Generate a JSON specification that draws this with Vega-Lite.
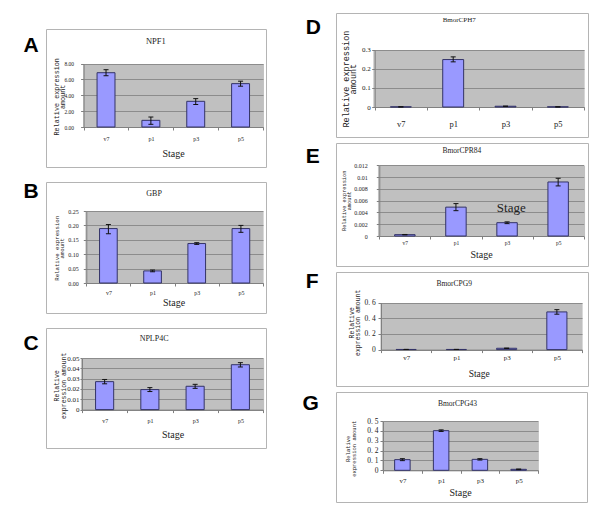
{
  "$schema": "https://vega.github.io/schema/vega-lite/v6.json",
  "padding": {"left": 22, "top": 12, "right": 0, "bottom": 0},
  "background": "white",
  "config": {
    "view": {"stroke": "#b4b4b4", "strokeWidth": 1},
    "axis": {"labelFont": "Liberation Serif", "titleFont": "Liberation Serif", "labelColor": "#222222", "titleColor": "#222222", "titleFontWeight": "normal"}
  },
  "spacing": 34,
  "hconcat": [
    {
      "spacing": 15,
      "bounds": "flush",
      "vconcat": [
        {"width": 220, "height": 1, "view": {"stroke": "#ffffff"}, "data": {"values": [{"a": 1}]}, "mark": {"type": "point", "size": 0, "opacity": 0}, "encoding": {}},
        {
          "width": 220, "height": 138,
          "data": {"values": [
            {"stage": "v7", "value": 6.85, "lo": 6.47, "hi": 7.23},
            {"stage": "p1", "value": 0.84, "lo": 0.34, "hi": 1.26},
            {"stage": "p3", "value": 3.24, "lo": 2.84, "hi": 3.58},
            {"stage": "p5", "value": 5.47, "lo": 5.15, "hi": 5.78}
          ]},
          "resolve": {"axis": {"x": "independent", "y": "independent"}},
          "layer": [
            {"mark": {"type": "bar", "width": {"band": 0.4}, "fill": "#9999ff", "stroke": "#333366", "strokeWidth": 1},
             "encoding": {
               "x": {"field": "stage", "type": "nominal", "sort": null, "scale": {"type": "band", "domain": ["v7", "p1", "p3", "p5"], "range": [37.6, 217], "paddingInner": 0, "paddingOuter": 0},
                     "axis": {"orient": "bottom", "offset": -40, "domain": true, "domainColor": "#808080", "ticks": true, "tickBand": "extent", "tickSize": 3, "tickColor": "#808080", "grid": false, "labelAngle": 0, "labelFontSize": 6, "labelPadding": 5, "labelOverlap": false, "title": "Stage", "titleFontSize": 10, "titleX": 127, "titleY": 26, "titleAlign": "center", "titleBaseline": "middle", "titleAngle": 0}},
               "y": {"field": "value", "type": "quantitative", "scale": {"domain": [0, 8], "range": [98, 34.6], "nice": false, "zero": false},
                     "axis": {"orient": "left", "offset": -37.6, "domain": true, "domainColor": "#808080", "ticks": true, "tickSize": 3, "tickColor": "#808080", "grid": true, "gridColor": "#8c8c8c", "gridWidth": 1, "values": [0, 2, 4, 6, 8], "format": ".2f", "labelFontSize": 5.5, "labelPadding": 7, "labelOverlap": false, "labelFlush": false, "title": ["Relative expression", "amount"], "titleFont": "Liberation Mono", "titleFontSize": 6.8, "titleLineHeight": 5.5, "titleAngle": -90, "titleAlign": "center", "titleBaseline": "top", "titleX": -30, "titleY": 67.3}}
             }},
            {"mark": {"type": "rule", "color": "#111111", "strokeWidth": 1},
             "encoding": {
               "x": {"field": "stage", "type": "nominal", "sort": null, "axis": {"orient": "top", "offset": 0, "domain": false, "ticks": false, "labels": false, "grid": false, "title": "NPF1", "titleFontSize": 8.5, "titleX": 109.3, "titleY": 11.3, "titleAlign": "center", "titleBaseline": "middle", "titleAngle": 0}},
               "y": {"field": "lo", "type": "quantitative", "axis": {"orient": "left", "offset": 0, "domain": false, "ticks": false, "labels": false, "grid": false, "title": "A", "titleFont": "Liberation Sans", "titleFontSize": 21, "titleFontWeight": "bold", "titleColor": "#000000", "titleAngle": 0, "titleAlign": "left", "titleBaseline": "alphabetic", "titleX": -23, "titleY": 22}},
               "y2": {"field": "hi"}
             }},
            {"mark": {"type": "tick", "color": "#111111", "thickness": 1, "size": 5, "opacity": 1},
             "encoding": {"x": {"field": "stage", "type": "nominal", "sort": null, "axis": null}, "y": {"field": "lo", "type": "quantitative", "axis": null}}},
            {"mark": {"type": "tick", "color": "#111111", "thickness": 1, "size": 5, "opacity": 1},
             "encoding": {"x": {"field": "stage", "type": "nominal", "sort": null, "axis": {"orient": "top", "offset": 0, "domain": false, "ticks": false, "labels": false, "grid": true, "gridColor": "#c0c0c0", "gridWidth": 46.9, "gridOpacity": 1, "tickBand": "center", "title": null}},
                          "y": {"field": "hi", "type": "quantitative", "axis": null}}}
          ]
        },
        {
          "width": 220, "height": 131,
          "data": {"values": [
            {"stage": "v7", "value": 0.189, "lo": 0.171, "hi": 0.203},
            {"stage": "p1", "value": 0.042, "lo": 0.039, "hi": 0.045},
            {"stage": "p3", "value": 0.137, "lo": 0.134, "hi": 0.14},
            {"stage": "p5", "value": 0.189, "lo": 0.176, "hi": 0.2}
          ]},
          "resolve": {"axis": {"x": "independent", "y": "independent"}},
          "layer": [
            {"mark": {"type": "bar", "width": {"band": 0.4}, "fill": "#9999ff", "stroke": "#333366", "strokeWidth": 1},
             "encoding": {
               "x": {"field": "stage", "type": "nominal", "sort": null, "scale": {"type": "band", "domain": ["v7", "p1", "p3", "p5"], "range": [40.3, 217], "paddingInner": 0, "paddingOuter": 0},
                     "axis": {"orient": "bottom", "offset": -30, "domain": true, "domainColor": "#808080", "ticks": true, "tickBand": "extent", "tickSize": 3, "tickColor": "#808080", "grid": false, "labelAngle": 0, "labelFontSize": 6, "labelPadding": 3, "labelOverlap": false, "title": "Stage", "titleFontSize": 10, "titleX": 127.6, "titleY": 19.6, "titleAlign": "center", "titleBaseline": "middle", "titleAngle": 0}},
               "y": {"field": "value", "type": "quantitative", "scale": {"domain": [0, 0.25], "range": [101, 29], "nice": false, "zero": false},
                     "axis": {"orient": "left", "offset": -40.3, "domain": true, "domainColor": "#808080", "ticks": true, "tickSize": 3, "tickColor": "#808080", "grid": true, "gridColor": "#8c8c8c", "gridWidth": 1, "values": [0, 0.05, 0.1, 0.15, 0.2, 0.25], "format": ".2f", "labelFontSize": 6, "labelPadding": 5, "labelOverlap": false, "labelFlush": false, "title": ["Relative expression", "amount"], "titleFont": "Liberation Mono", "titleFontSize": 5.7, "titleLineHeight": 5, "titleAngle": -90, "titleAlign": "center", "titleBaseline": "top", "titleX": -32.7, "titleY": 65.8}}
             }},
            {"mark": {"type": "rule", "color": "#111111", "strokeWidth": 1},
             "encoding": {
               "x": {"field": "stage", "type": "nominal", "sort": null, "axis": {"orient": "top", "offset": 0, "domain": false, "ticks": false, "labels": false, "grid": false, "title": "GBP", "titleFontSize": 8, "titleX": 107.6, "titleY": 11.6, "titleAlign": "center", "titleBaseline": "middle", "titleAngle": 0}},
               "y": {"field": "lo", "type": "quantitative", "axis": {"orient": "left", "offset": 0, "domain": false, "ticks": false, "labels": false, "grid": false, "title": "B", "titleFont": "Liberation Sans", "titleFontSize": 21, "titleFontWeight": "bold", "titleColor": "#000000", "titleAngle": 0, "titleAlign": "left", "titleBaseline": "alphabetic", "titleX": -23, "titleY": 15}},
               "y2": {"field": "hi"}
             }},
            {"mark": {"type": "tick", "color": "#111111", "thickness": 1, "size": 5, "opacity": 1},
             "encoding": {"x": {"field": "stage", "type": "nominal", "sort": null, "axis": null}, "y": {"field": "lo", "type": "quantitative", "axis": null}}},
            {"mark": {"type": "tick", "color": "#111111", "thickness": 1, "size": 5, "opacity": 1},
             "encoding": {"x": {"field": "stage", "type": "nominal", "sort": null, "axis": {"orient": "top", "offset": 0, "domain": false, "ticks": false, "labels": false, "grid": true, "gridColor": "#c0c0c0", "gridWidth": 46.2, "gridOpacity": 1, "tickBand": "center", "title": null}},
                          "y": {"field": "hi", "type": "quantitative", "axis": null}}}
          ]
        },
        {
          "width": 220, "height": 120,
          "data": {"values": [
            {"stage": "v7", "value": 0.0271, "lo": 0.025, "hi": 0.0292},
            {"stage": "p1", "value": 0.0194, "lo": 0.0175, "hi": 0.0213},
            {"stage": "p3", "value": 0.0226, "lo": 0.0206, "hi": 0.0245},
            {"stage": "p5", "value": 0.0435, "lo": 0.0413, "hi": 0.0455}
          ]},
          "resolve": {"axis": {"x": "independent", "y": "independent"}},
          "layer": [
            {"mark": {"type": "bar", "width": {"band": 0.4}, "fill": "#9999ff", "stroke": "#333366", "strokeWidth": 1},
             "encoding": {
               "x": {"field": "stage", "type": "nominal", "sort": null, "scale": {"type": "band", "domain": ["v7", "p1", "p3", "p5"], "range": [36, 217], "paddingInner": 0, "paddingOuter": 0},
                     "axis": {"orient": "bottom", "offset": -38.4, "domain": true, "domainColor": "#808080", "ticks": true, "tickBand": "extent", "tickSize": 3, "tickColor": "#808080", "grid": false, "labelAngle": 0, "labelFontSize": 6, "labelPadding": 4.5, "labelOverlap": false, "title": "Stage", "titleFontSize": 10, "titleX": 126.6, "titleY": 24.9, "titleAlign": "center", "titleBaseline": "middle", "titleAngle": 0}},
               "y": {"field": "value", "type": "quantitative", "scale": {"domain": [0, 0.05], "range": [81.6, 30], "nice": false, "zero": false},
                     "axis": {"orient": "left", "offset": -36, "domain": true, "domainColor": "#808080", "ticks": true, "tickSize": 2, "tickColor": "#808080", "grid": true, "gridColor": "#8c8c8c", "gridWidth": 1, "values": [0, 0.01, 0.02, 0.03, 0.04, 0.05], "format": "~g", "labelFontSize": 7, "labelPadding": 1, "labelOverlap": false, "labelFlush": false, "title": ["Relative", "expression amount"], "titleFont": "Liberation Mono", "titleFontSize": 6.5, "titleLineHeight": 7, "titleAngle": -90, "titleAlign": "center", "titleBaseline": "top", "titleX": -29, "titleY": 57.3}}
             }},
            {"mark": {"type": "rule", "color": "#111111", "strokeWidth": 1},
             "encoding": {
               "x": {"field": "stage", "type": "nominal", "sort": null, "axis": {"orient": "top", "offset": 0, "domain": false, "ticks": false, "labels": false, "grid": false, "title": "NPLP4C", "titleFontSize": 8, "titleX": 107.6, "titleY": 10.6, "titleAlign": "center", "titleBaseline": "middle", "titleAngle": 0}},
               "y": {"field": "lo", "type": "quantitative", "axis": {"orient": "left", "offset": 0, "domain": false, "ticks": false, "labels": false, "grid": false, "title": "C", "titleFont": "Liberation Sans", "titleFontSize": 21, "titleFontWeight": "bold", "titleColor": "#000000", "titleAngle": 0, "titleAlign": "left", "titleBaseline": "alphabetic", "titleX": -23, "titleY": 21.6}},
               "y2": {"field": "hi"}
             }},
            {"mark": {"type": "tick", "color": "#111111", "thickness": 1, "size": 5, "opacity": 1},
             "encoding": {"x": {"field": "stage", "type": "nominal", "sort": null, "axis": null}, "y": {"field": "lo", "type": "quantitative", "axis": null}}},
            {"mark": {"type": "tick", "color": "#111111", "thickness": 1, "size": 5, "opacity": 1},
             "encoding": {"x": {"field": "stage", "type": "nominal", "sort": null, "axis": {"orient": "top", "offset": 0, "domain": false, "ticks": false, "labels": false, "grid": true, "gridColor": "#c0c0c0", "gridWidth": 47.3, "gridOpacity": 1, "tickBand": "center", "title": null}},
                          "y": {"field": "hi", "type": "quantitative", "axis": null}}}
          ]
        }
      ]
    },
    {
      "spacing": 6,
      "bounds": "flush",
      "vconcat": [
        {
          "width": 252, "height": 124,
          "data": {"values": [
            {"stage": "v7", "value": 0.0008, "lo": 0.0008, "hi": 0.0008},
            {"stage": "p1", "value": 0.248, "lo": 0.236, "hi": 0.262},
            {"stage": "p3", "value": 0.004, "lo": 0.004, "hi": 0.004},
            {"stage": "p5", "value": 0.0008, "lo": 0.0008, "hi": 0.0008}
          ]},
          "resolve": {"axis": {"x": "independent", "y": "independent"}},
          "layer": [
            {"mark": {"type": "bar", "width": {"band": 0.4}, "fill": "#9999ff", "stroke": "#333366", "strokeWidth": 1},
             "encoding": {
               "x": {"field": "stage", "type": "nominal", "sort": null, "scale": {"type": "band", "domain": ["v7", "p1", "p3", "p5"], "range": [38.7, 248], "paddingInner": 0, "paddingOuter": 0},
                     "axis": {"orient": "bottom", "offset": -30, "domain": true, "domainColor": "#808080", "ticks": true, "tickBand": "extent", "tickSize": 3, "tickColor": "#808080", "grid": false, "labelAngle": 0, "labelFontSize": 8.5, "labelPadding": 9.4, "labelOverlap": false, "title": null}},
               "y": {"field": "value", "type": "quantitative", "scale": {"domain": [0, 0.3], "range": [94, 36.6], "nice": false, "zero": false},
                     "axis": {"orient": "left", "offset": -38.7, "domain": true, "domainColor": "#808080", "ticks": true, "tickSize": 3, "tickColor": "#808080", "grid": true, "gridColor": "#8c8c8c", "gridWidth": 1, "values": [0, 0.1, 0.2, 0.3], "format": "~g", "labelFontSize": 7, "labelPadding": 1.5, "labelOverlap": false, "labelFlush": false, "title": ["Relative expression", "amount"], "titleFont": "Liberation Mono", "titleFontSize": 8.5, "titleLineHeight": 7, "titleAngle": -90, "titleAlign": "center", "titleBaseline": "top", "titleX": -33.4, "titleY": 65.6}}
             }},
            {"mark": {"type": "rule", "color": "#111111", "strokeWidth": 1},
             "encoding": {
               "x": {"field": "stage", "type": "nominal", "sort": null, "axis": {"orient": "top", "offset": 0, "domain": false, "ticks": false, "labels": false, "grid": false, "title": "BmorCPH7", "titleFontSize": 7, "titleX": 122.7, "titleY": 6.6, "titleAlign": "center", "titleBaseline": "middle", "titleAngle": 0}},
               "y": {"field": "lo", "type": "quantitative", "axis": {"orient": "left", "offset": 0, "domain": false, "ticks": false, "labels": false, "grid": false, "title": "D", "titleFont": "Liberation Sans", "titleFontSize": 21, "titleFontWeight": "bold", "titleColor": "#000000", "titleAngle": 0, "titleAlign": "left", "titleBaseline": "alphabetic", "titleX": -30.7, "titleY": 20.6}},
               "y2": {"field": "hi"}
             }},
            {"mark": {"type": "tick", "color": "#111111", "thickness": 1, "size": 5, "opacity": 1},
             "encoding": {"x": {"field": "stage", "type": "nominal", "sort": null, "axis": null}, "y": {"field": "lo", "type": "quantitative", "axis": null}}},
            {"mark": {"type": "tick", "color": "#111111", "thickness": 1, "size": 5, "opacity": 1},
             "encoding": {"x": {"field": "stage", "type": "nominal", "sort": null, "axis": {"orient": "top", "offset": 0, "domain": false, "ticks": false, "labels": false, "grid": true, "gridColor": "#c0c0c0", "gridWidth": 54.3, "gridOpacity": 1, "tickBand": "center", "title": null}},
                          "y": {"field": "hi", "type": "quantitative", "axis": null}}}
          ]
        },
        {
          "width": 252, "height": 123,
          "data": {"values": [
            {"stage": "v7", "value": 0.00023, "lo": 0.0002, "hi": 0.00026},
            {"stage": "p1", "value": 0.0049, "lo": 0.0043, "hi": 0.0055},
            {"stage": "p3", "value": 0.00226, "lo": 0.0021, "hi": 0.0024},
            {"stage": "p5", "value": 0.00917, "lo": 0.0085, "hi": 0.0098}
          ]},
          "resolve": {"axis": {"x": "independent", "y": "independent"}},
          "layer": [
            {"mark": {"type": "bar", "width": {"band": 0.4}, "fill": "#9999ff", "stroke": "#333366", "strokeWidth": 1},
             "encoding": {
               "x": {"field": "stage", "type": "nominal", "sort": null, "scale": {"type": "band", "domain": ["v7", "p1", "p3", "p5"], "range": [43.3, 247.7], "paddingInner": 0, "paddingOuter": 0},
                     "axis": {"orient": "bottom", "offset": -30, "domain": true, "domainColor": "#808080", "ticks": true, "tickBand": "extent", "tickSize": 3, "tickColor": "#808080", "grid": false, "labelAngle": 0, "labelFontSize": 5.5, "labelPadding": 1.5, "labelOverlap": false, "title": "Stage", "titleFontSize": 10, "titleX": 145, "titleY": 18.5, "titleAlign": "center", "titleBaseline": "middle", "titleAngle": 0}},
               "y": {"field": "value", "type": "quantitative", "scale": {"domain": [0, 0.012], "range": [93, 22.3], "nice": false, "zero": false},
                     "axis": {"orient": "left", "offset": -43.3, "domain": true, "domainColor": "#808080", "ticks": true, "tickSize": 3, "tickColor": "#808080", "grid": true, "gridColor": "#8c8c8c", "gridWidth": 1, "values": [0, 0.002, 0.004, 0.006, 0.008, 0.01, 0.012], "format": "~g", "labelFontSize": 6, "labelPadding": 9, "labelOverlap": false, "labelFlush": false, "title": ["Relative expression", "amount"], "titleFont": "Liberation Mono", "titleFontSize": 5.3, "titleLineHeight": 5, "titleAngle": -90, "titleAlign": "center", "titleBaseline": "top", "titleX": -38, "titleY": 57.3}}
             }},
            {"mark": {"type": "rule", "color": "#111111", "strokeWidth": 1},
             "encoding": {
               "x": {"field": "stage", "type": "nominal", "sort": null, "axis": {"orient": "top", "offset": 0, "domain": false, "ticks": false, "labels": false, "grid": false, "title": "BmorCPR84", "titleFontSize": 7.5, "titleX": 125.3, "titleY": 7.3, "titleAlign": "center", "titleBaseline": "middle", "titleAngle": 0}},
               "y": {"field": "lo", "type": "quantitative", "axis": {"orient": "left", "offset": 0, "domain": false, "ticks": false, "labels": false, "grid": false, "title": "E", "titleFont": "Liberation Sans", "titleFontSize": 21, "titleFontWeight": "bold", "titleColor": "#000000", "titleAngle": 0, "titleAlign": "left", "titleBaseline": "alphabetic", "titleX": -30.7, "titleY": 19.3}},
               "y2": {"field": "hi"}
             }},
            {"mark": {"type": "tick", "color": "#111111", "thickness": 1, "size": 5, "opacity": 1},
             "encoding": {"x": {"field": "stage", "type": "nominal", "sort": null, "axis": {"orient": "bottom", "offset": 0, "domain": false, "ticks": false, "labels": false, "grid": false, "title": "Stage", "titleFontSize": 13, "titleX": 174.8, "titleY": -58.7, "titleAlign": "center", "titleBaseline": "middle", "titleAngle": 0}},
                          "y": {"field": "lo", "type": "quantitative", "axis": null}}},
            {"mark": {"type": "tick", "color": "#111111", "thickness": 1, "size": 5, "opacity": 1},
             "encoding": {"x": {"field": "stage", "type": "nominal", "sort": null, "axis": {"orient": "top", "offset": 0, "domain": false, "ticks": false, "labels": false, "grid": true, "gridColor": "#c0c0c0", "gridWidth": 53.1, "gridOpacity": 1, "tickBand": "center", "title": null}},
                          "y": {"field": "hi", "type": "quantitative", "axis": null}}}
          ]
        },
        {
          "width": 252, "height": 114,
          "data": {"values": [
            {"stage": "v7", "value": 0.002, "lo": 0.002, "hi": 0.002},
            {"stage": "p1", "value": 0.002, "lo": 0.002, "hi": 0.002},
            {"stage": "p3", "value": 0.017, "lo": 0.015, "hi": 0.019},
            {"stage": "p5", "value": 0.481, "lo": 0.452, "hi": 0.51}
          ]},
          "resolve": {"axis": {"x": "independent", "y": "independent"}},
          "layer": [
            {"mark": {"type": "bar", "width": {"band": 0.4}, "fill": "#9999ff", "stroke": "#333366", "strokeWidth": 1},
             "encoding": {
               "x": {"field": "stage", "type": "nominal", "sort": null, "scale": {"type": "band", "domain": ["v7", "p1", "p3", "p5"], "range": [45, 246], "paddingInner": 0, "paddingOuter": 0},
                     "axis": {"orient": "bottom", "offset": -36.4, "domain": true, "domainColor": "#808080", "ticks": true, "tickBand": "extent", "tickSize": 3, "tickColor": "#808080", "grid": false, "labelAngle": 0, "labelFontSize": 7, "labelPadding": 1, "labelOverlap": false, "title": "Stage", "titleFontSize": 9.5, "titleX": 142.7, "titleY": 24, "titleAlign": "center", "titleBaseline": "middle", "titleAngle": 0}},
               "y": {"field": "value", "type": "quantitative", "scale": {"domain": [0, 0.6], "range": [77.6, 30.6], "nice": false, "zero": false},
                     "axis": {"orient": "left", "offset": -45, "domain": true, "domainColor": "#808080", "ticks": true, "tickSize": 3, "tickColor": "#808080", "grid": true, "gridColor": "#8c8c8c", "gridWidth": 1, "values": [0, 0.2, 0.4, 0.6], "labelExpr": "datum.value == 0 ? '0' : replace(format(datum.value, '.1f'), '.', '. ')", "labelFontSize": 7.5, "labelPadding": 2.7, "labelOverlap": false, "labelFlush": false, "title": ["Relative", "expression amount"], "titleFont": "Liberation Mono", "titleFontSize": 6.5, "titleLineHeight": 6, "titleAngle": -90, "titleAlign": "center", "titleBaseline": "top", "titleX": -32.3, "titleY": 50.3}}
             }},
            {"mark": {"type": "rule", "color": "#111111", "strokeWidth": 1},
             "encoding": {
               "x": {"field": "stage", "type": "nominal", "sort": null, "axis": {"orient": "top", "offset": 0, "domain": false, "ticks": false, "labels": false, "grid": false, "title": "BmorCPG9", "titleFontSize": 7.5, "titleX": 117.7, "titleY": 11.6, "titleAlign": "center", "titleBaseline": "middle", "titleAngle": 0}},
               "y": {"field": "lo", "type": "quantitative", "axis": {"orient": "left", "offset": 0, "domain": false, "ticks": false, "labels": false, "grid": false, "title": "F", "titleFont": "Liberation Sans", "titleFontSize": 21, "titleFontWeight": "bold", "titleColor": "#000000", "titleAngle": 0, "titleAlign": "left", "titleBaseline": "alphabetic", "titleX": -30.7, "titleY": 15}},
               "y2": {"field": "hi"}
             }},
            {"mark": {"type": "tick", "color": "#111111", "thickness": 1, "size": 5, "opacity": 1},
             "encoding": {"x": {"field": "stage", "type": "nominal", "sort": null, "axis": null}, "y": {"field": "lo", "type": "quantitative", "axis": null}}},
            {"mark": {"type": "tick", "color": "#111111", "thickness": 1, "size": 5, "opacity": 1},
             "encoding": {"x": {"field": "stage", "type": "nominal", "sort": null, "axis": {"orient": "top", "offset": 0, "domain": false, "ticks": false, "labels": false, "grid": true, "gridColor": "#c0c0c0", "gridWidth": 52.2, "gridOpacity": 1, "tickBand": "center", "title": null}},
                          "y": {"field": "hi", "type": "quantitative", "axis": null}}}
          ]
        },
        {
          "width": 251, "height": 110,
          "data": {"values": [
            {"stage": "v7", "value": 0.108, "lo": 0.098, "hi": 0.118},
            {"stage": "p1", "value": 0.402, "lo": 0.394, "hi": 0.41},
            {"stage": "p3", "value": 0.111, "lo": 0.104, "hi": 0.118},
            {"stage": "p5", "value": 0.01, "lo": 0.007, "hi": 0.013}
          ]},
          "resolve": {"axis": {"x": "independent", "y": "independent"}},
          "layer": [
            {"mark": {"type": "bar", "width": {"band": 0.4}, "fill": "#9999ff", "stroke": "#333366", "strokeWidth": 1},
             "encoding": {
               "x": {"field": "stage", "type": "nominal", "sort": null, "scale": {"type": "band", "domain": ["v7", "p1", "p3", "p5"], "range": [47, 202], "paddingInner": 0, "paddingOuter": 0},
                     "axis": {"orient": "bottom", "offset": -31.7, "domain": true, "domainColor": "#808080", "ticks": true, "tickBand": "extent", "tickSize": 3, "tickColor": "#808080", "grid": false, "labelAngle": 0, "labelFontSize": 7, "labelPadding": 2.8, "labelOverlap": false, "title": "Stage", "titleFontSize": 10, "titleX": 124, "titleY": 21.7, "titleAlign": "center", "titleBaseline": "middle", "titleAngle": 0}},
               "y": {"field": "value", "type": "quantitative", "scale": {"domain": [0, 0.5], "range": [78.3, 29], "nice": false, "zero": false},
                     "axis": {"orient": "left", "offset": -47, "domain": true, "domainColor": "#808080", "ticks": true, "tickSize": 3, "tickColor": "#808080", "grid": true, "gridColor": "#8c8c8c", "gridWidth": 1, "values": [0, 0.1, 0.2, 0.3, 0.4, 0.5], "labelExpr": "datum.value == 0 ? '0' : replace(format(datum.value, '.1f'), '.', '. ')", "labelFontSize": 7.5, "labelPadding": 2, "labelOverlap": false, "labelFlush": false, "title": ["Relative", "expression amount"], "titleFont": "Liberation Mono", "titleFontSize": 5.5, "titleLineHeight": 6, "titleAngle": -90, "titleAlign": "center", "titleBaseline": "top", "titleX": -37.7, "titleY": 56.3}}
             }},
            {"mark": {"type": "rule", "color": "#111111", "strokeWidth": 1},
             "encoding": {
               "x": {"field": "stage", "type": "nominal", "sort": null, "axis": {"orient": "top", "offset": 0, "domain": false, "ticks": false, "labels": false, "grid": false, "title": "BmorCPG43", "titleFontSize": 7.5, "titleX": 121, "titleY": 11, "titleAlign": "center", "titleBaseline": "middle", "titleAngle": 0}},
               "y": {"field": "lo", "type": "quantitative", "axis": {"orient": "left", "offset": 0, "domain": false, "ticks": false, "labels": false, "grid": false, "title": "G", "titleFont": "Liberation Sans", "titleFontSize": 21, "titleFontWeight": "bold", "titleColor": "#000000", "titleAngle": 0, "titleAlign": "left", "titleBaseline": "alphabetic", "titleX": -34, "titleY": 17}},
               "y2": {"field": "hi"}
             }},
            {"mark": {"type": "tick", "color": "#111111", "thickness": 1, "size": 5, "opacity": 1},
             "encoding": {"x": {"field": "stage", "type": "nominal", "sort": null, "axis": null}, "y": {"field": "lo", "type": "quantitative", "axis": null}}},
            {"mark": {"type": "tick", "color": "#111111", "thickness": 1, "size": 5, "opacity": 1},
             "encoding": {"x": {"field": "stage", "type": "nominal", "sort": null, "axis": {"orient": "top", "offset": 0, "domain": false, "ticks": false, "labels": false, "grid": true, "gridColor": "#c0c0c0", "gridWidth": 40.7, "gridOpacity": 1, "tickBand": "center", "title": null}},
                          "y": {"field": "hi", "type": "quantitative", "axis": null}}}
          ]
        }
      ]
    }
  ]
}
